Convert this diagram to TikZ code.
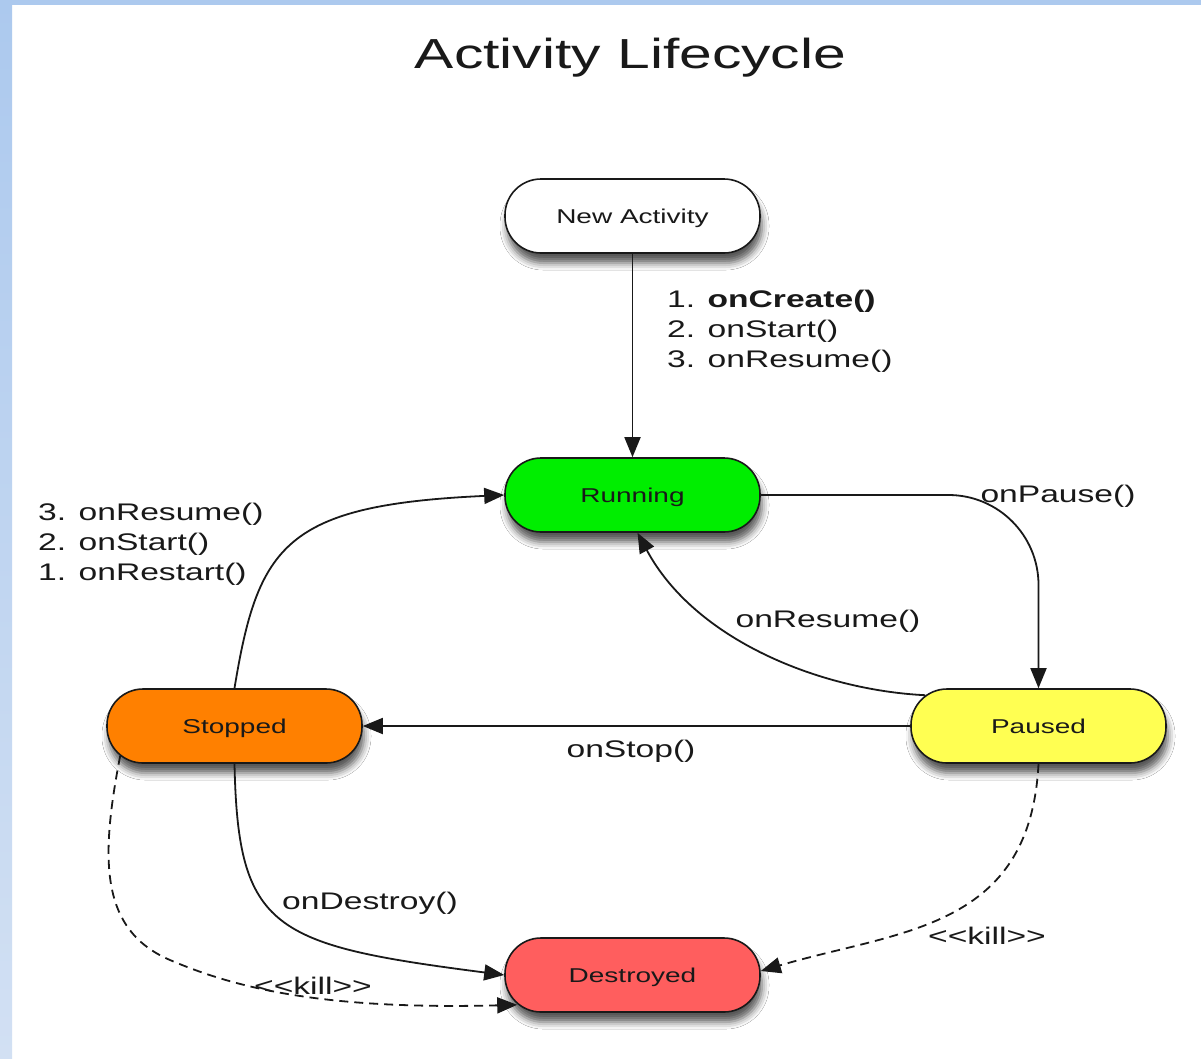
\documentclass[tikz,border=0pt]{standalone}
\usepackage{fontspec}
\setmainfont[FakeStretch=1.4]{Liberation Sans}
\usetikzlibrary{arrows.meta,calc,shadows.blur}
\definecolor{runcol}{RGB}{0,238,0}
\definecolor{stopcol}{RGB}{255,128,0}
\definecolor{pausecol}{RGB}{255,255,82}
\definecolor{destcol}{RGB}{255,94,94}
\definecolor{bordtop}{RGB}{172,201,238}
\definecolor{bordbot}{RGB}{210,224,243}
\definecolor{inkcol}{RGB}{25,25,25}
\begin{document}
\begin{tikzpicture}[x=1pt,y=-1pt,
  state/.style={draw=inkcol, line width=1.6pt, rounded corners=36pt,
    minimum width=255pt, minimum height=74pt, inner sep=0pt,
    text height=14.5pt, text depth=0pt,
    font=\fontsize{20}{24}\selectfont, text=inkcol,
    blur shadow={shadow xshift=2pt, shadow yshift=-10pt, shadow blur radius=7pt, shadow opacity=65}},
  conn/.style={line width=1.8pt, draw=inkcol, -{Triangle[length=20pt,width=16pt]}},
  killconn/.style={conn, dash pattern=on 9pt off 6pt},
  lbl/.style={font=\fontsize{24}{30}\selectfont, inner sep=0pt, text=inkcol, align=left}]
\useasboundingbox (0,0) rectangle (1201,1058);
\fill[white] (0,0) rectangle (1201,1058);
\shade[top color=bordtop, bottom color=bordbot] (0,0) rectangle (12,1058);
\fill[bordtop] (0,0) rectangle (1201,5);

\node[anchor=base, font=\fontsize{42}{50}\selectfont, text=inkcol] (title) at (630.5,68) {Activity Lifecycle};

\node[state, fill=white]    (new)   at (632.5,216) {New Activity};
\node[state, fill=runcol]   (run)   at (632.5,495) {Running};
\node[state, fill=stopcol]  (stop)  at (234.5,726) {Stopped};
\node[state, fill=pausecol] (pause) at (1038.5,726) {Paused};
\node[state, fill=destcol]  (dest)  at (632.5,975) {Destroyed};

% New -> Running
\draw[conn] (new.south) -- (run.north);
\node[lbl, anchor=west] (createlbl) at (667,331) {1. \textbf{onCreate()}\\2. onStart()\\3. onResume()};

% Running -> Paused
\draw[conn, rounded corners=90pt] (run.east) -| (pause.north);
\node[lbl] (pauselbl) at (1058,496) {onPause()};

% Paused -> Running
\draw[conn] ($(pause.north west)+(15,7)$) .. controls (820,690) and (695,640) .. ($(run.south)+(5,0)$);
\node[lbl] (resumelbl) at (828,621) {onResume()};

% Paused -> Stopped
\draw[conn] (pause.west) -- (stop.east);
\node[lbl] (stoplbl) at (631,751) {onStop()};

% Stopped -> Running
\draw[conn] (stop.north) .. controls (258,545) and (285,505) .. (run.west);
\node[lbl, anchor=west] (restartlbl) at (38,544) {3. onResume()\\2. onStart()\\1. onRestart()};

% Stopped -> Destroyed
\draw[conn] (stop.south) .. controls (238,930) and (272,945) .. (dest.west);
\node[lbl] (destroylbl) at (370,903) {onDestroy()};

% Stopped -> Destroyed (kill)
\draw[killconn] ($(stop.south west)+(14,-8)$) .. controls (100,860) and (100,930) .. (170,960)
  .. controls (233,987) and (320,1010) .. ($(dest.south west)+(13,-8)$);
\node[lbl] (kill1) at (313,986) {<{}<kill>{}>};

% Paused -> Destroyed (kill)
\draw[killconn] (pause.south) .. controls (1030,930) and (900,930) .. ($(dest.east)+(0,-4)$);
\node[lbl] (kill2) at (987,936) {<{}<kill>{}>};
\end{tikzpicture}
\end{document}
